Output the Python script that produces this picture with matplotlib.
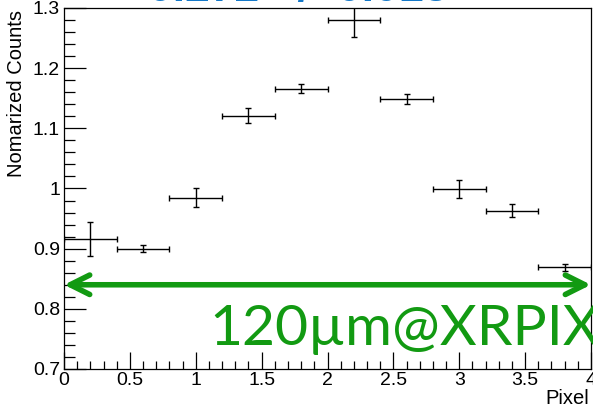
import numpy as np
import matplotlib.pyplot as plt
from matplotlib.ticker import MultipleLocator

# bin centres and measured values
pixel = [0.2, 0.6, 1.0, 1.4, 1.8, 2.2, 2.6, 3.0, 3.4, 3.8]
pixel_err = [0.2] * 10
counts = [0.916, 0.900, 0.985, 1.121, 1.166, 1.280, 1.149, 0.999, 0.963, 0.869]
counts_err = [0.028, 0.006, 0.015, 0.012, 0.008, 0.028, 0.008, 0.015, 0.011, 0.006]

x_ticks = [0, 0.5, 1, 1.5, 2, 2.5, 3, 3.5, 4]
x_labels = ['0', '0.5', '1', '1.5', '2', '2.5', '3', '3.5', '4']
y_ticks = [0.7, 0.8, 0.9, 1.0, 1.1, 1.2, 1.3]
y_labels = ['0.7', '0.8', '0.9', '1', '1.1', '1.2', '1.3']

arrow_y = 0.84
fit_text = "0.272 +/- 0.013"
label_text = "120\u00b5m@XRPIX"

plt.rcParams['font.family'] = ['Liberation Sans', 'DejaVu Sans']

fig = plt.figure(figsize=(5.93, 4.08), dpi=100)
ax = fig.add_axes([0.108, 0.0956, 0.8886, 0.8848])

ax.errorbar(pixel, counts, xerr=pixel_err, yerr=counts_err, fmt='none',
            ecolor='black', elinewidth=1.0, capsize=2, capthick=1.0)

ax.set_xlim(0, 4)
ax.set_ylim(0.7, 1.3)
ax.set_xticks(x_ticks)
ax.set_xticklabels(x_labels)
ax.set_yticks(y_ticks)
ax.set_yticklabels(y_labels)
ax.xaxis.set_minor_locator(MultipleLocator(0.1))
ax.yaxis.set_minor_locator(MultipleLocator(0.02))
ax.tick_params(which='both', direction='in', top=False, right=False,
               labelsize=14, width=0.9)
ax.tick_params(axis='y', which='major', length=16, pad=3)
ax.tick_params(axis='y', which='minor', length=8)
ax.tick_params(axis='x', which='major', length=12, pad=2)
ax.tick_params(axis='x', which='minor', length=6)
for s in ax.spines.values():
    s.set_linewidth(0.9)

ax.set_ylabel("Nomarized Counts", fontsize=14.5)
ax.yaxis.set_label_coords(-0.072, 0.995)
ax.yaxis.label.set_horizontalalignment('right')
ax.set_xlabel("Pixel", fontsize=14.5)
ax.xaxis.set_label_coords(0.996, -0.055)
ax.xaxis.label.set_horizontalalignment('right')

ax.annotate('', xy=(0.0, arrow_y), xytext=(4.0, arrow_y),
            arrowprops=dict(arrowstyle='<->', color='#129a12', lw=4,
                            mutation_scale=35, shrinkA=0, shrinkB=0))
ax.text(4.07, 0.740, label_text, color='#129a12', fontsize=41,
        family=['Lato', 'DejaVu Sans'], ha='right', va='baseline',
        clip_on=False)

fig.text(0.25, 0.998, fit_text, color='#1478c8', fontsize=32,
         fontweight='bold', ha='left', va='baseline')

fig.savefig("out.png", dpi=100)
